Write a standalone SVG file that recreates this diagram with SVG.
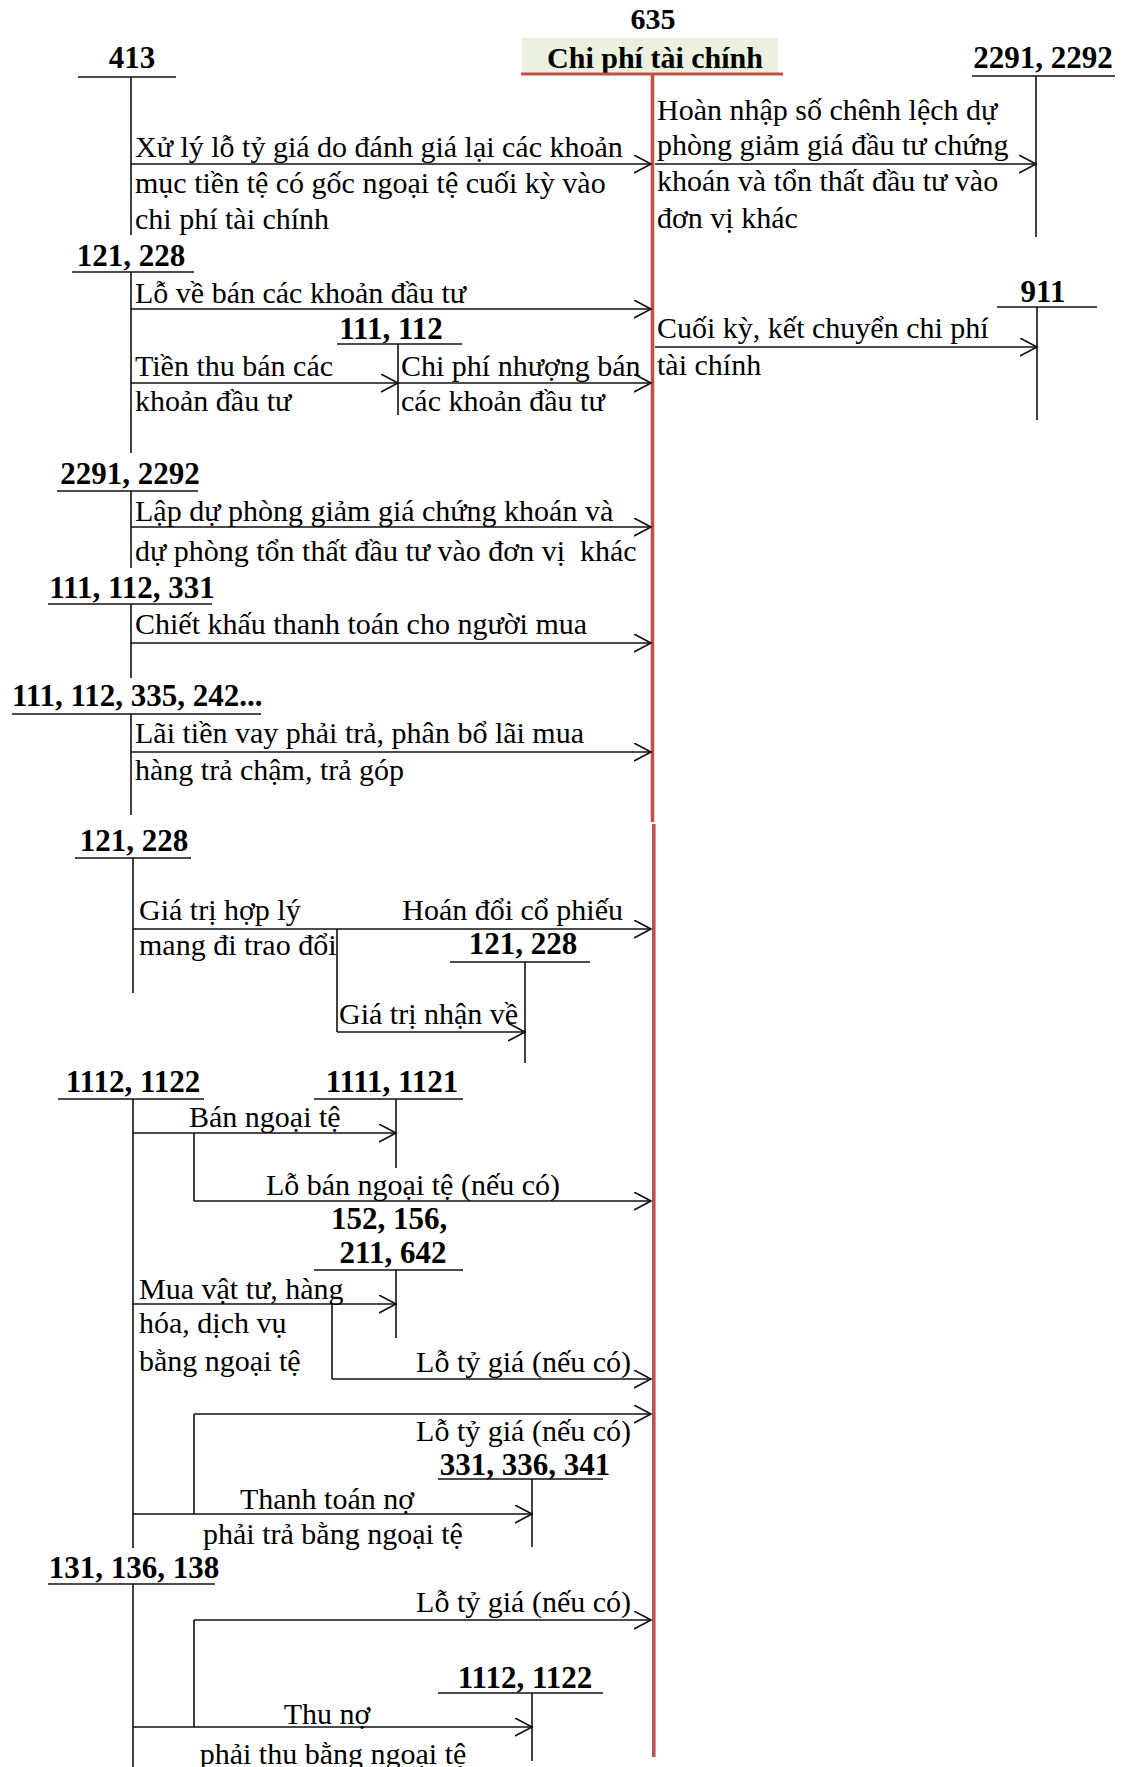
<svg xmlns="http://www.w3.org/2000/svg" width="1122" height="1767" viewBox="0 0 1122 1767">
<style>
text{font-family:"Liberation Serif","Times New Roman",serif;fill:#000;}
.t{font-size:30px;}
.b{font-size:31px;font-weight:bold;text-anchor:middle;}
.m{text-anchor:middle;}
.e{text-anchor:end;}
.ln{stroke:#111;stroke-width:1.6;fill:none;}
.bar{stroke:#111;stroke-width:1.6;fill:none;}
.red{stroke:#c0504d;fill:none;}
.ar{stroke:#111;stroke-width:1.6;fill:none;marker-end:url(#ah);}
</style>
<defs>
<marker id="ah" markerUnits="userSpaceOnUse" markerWidth="20" markerHeight="20" refX="17" refY="9" orient="auto" viewBox="0 0 20 20">
<path d="M0,0 L17,9 L0,18" fill="none" stroke="#111" stroke-width="1.6"/>
</marker>
</defs>
<rect width="1122" height="1767" fill="#fff"/>

<g id="acc-635">
<rect x="522" y="38" width="256" height="35" fill="#ebf1de"/>
<text class="b" x="653" y="29" style="font-size:30px">635</text>
<text class="b" x="655" y="68" style="font-size:30px">Chi phí tài chính</text>
<line class="red" x1="521" y1="74" x2="783" y2="74" stroke-width="3"/>
<line class="red" x1="652.5" y1="74" x2="652.5" y2="822" stroke-width="3.6"/>
<line class="red" x1="653.8" y1="824" x2="653.8" y2="1757" stroke-width="3.6"/>
</g>

<g id="acc-413">
<text class="b" x="132" y="68">413</text>
<line class="bar" x1="78" y1="77" x2="176" y2="77"/>
<line class="ln" x1="131" y1="77" x2="131" y2="235"/>
</g>

<g id="acc-2291-2292-right">
<text class="b" x="1043" y="68">2291, 2292</text>
<line class="bar" x1="972" y1="76" x2="1115" y2="76"/>
<line class="ln" x1="1036" y1="76" x2="1036" y2="237"/>
</g>

<g id="acc-121-228-a">
<text class="b" x="131" y="266">121, 228</text>
<line class="bar" x1="72" y1="272" x2="194" y2="272"/>
<line class="ln" x1="131" y1="272" x2="131" y2="453"/>
</g>

<g id="acc-111-112">
<text class="b" x="391" y="339">111, 112</text>
<line class="bar" x1="337" y1="344" x2="462" y2="344"/>
<line class="ln" x1="398" y1="344" x2="398" y2="415"/>
</g>

<g id="acc-911">
<text class="b" x="1043" y="302">911</text>
<line class="bar" x1="997" y1="307" x2="1097" y2="307"/>
<line class="ln" x1="1037" y1="307" x2="1037" y2="420"/>
</g>

<g id="acc-2291-2292-left">
<text class="b" x="130" y="484">2291, 2292</text>
<line class="bar" x1="57" y1="491" x2="198" y2="491"/>
<line class="ln" x1="131" y1="491" x2="131" y2="568"/>
</g>

<g id="acc-111-112-331">
<text class="b" x="132" y="598">111, 112, 331</text>
<line class="bar" x1="48" y1="604" x2="212" y2="604"/>
<line class="ln" x1="131" y1="604" x2="131" y2="678"/>
</g>

<g id="acc-111-112-335-242">
<text class="b" x="12" y="706" style="text-anchor:start">111, 112, 335, 242...</text>
<line class="bar" x1="12" y1="714" x2="261" y2="714"/>
<line class="ln" x1="131" y1="714" x2="131" y2="815"/>
</g>

<g id="acc-121-228-b">
<text class="b" x="134" y="851">121, 228</text>
<line class="bar" x1="75" y1="858" x2="191" y2="858"/>
<line class="ln" x1="133" y1="858" x2="133" y2="993"/>
</g>

<g id="acc-121-228-c">
<text class="b" x="523" y="954">121, 228</text>
<line class="bar" x1="450" y1="962" x2="590" y2="962"/>
<line class="ln" x1="525" y1="962" x2="525" y2="1063"/>
</g>

<g id="acc-1112-1122">
<text class="b" x="133" y="1092">1112, 1122</text>
<line class="bar" x1="58" y1="1099" x2="204" y2="1099"/>
<line class="ln" x1="133" y1="1099" x2="133" y2="1548"/>
</g>

<g id="acc-1111-1121">
<text class="b" x="392" y="1092">1111, 1121</text>
<line class="bar" x1="314" y1="1099" x2="463" y2="1099"/>
<line class="ln" x1="396" y1="1099" x2="396" y2="1168"/>
</g>

<g id="acc-152-156-211-642">
<text class="b" x="389" y="1229">152, 156,</text>
<text class="b" x="393" y="1263">211, 642</text>
<line class="bar" x1="314" y1="1270" x2="463" y2="1270"/>
<line class="ln" x1="396" y1="1270" x2="396" y2="1338"/>
</g>

<g id="acc-331-336-341">
<text class="b" x="525" y="1475">331, 336, 341</text>
<line class="bar" x1="438" y1="1479" x2="603" y2="1479"/>
<line class="ln" x1="532" y1="1479" x2="532" y2="1547"/>
</g>

<g id="acc-131-136-138">
<text class="b" x="134" y="1578">131, 136, 138</text>
<line class="bar" x1="48" y1="1584" x2="215" y2="1584"/>
<line class="ln" x1="133" y1="1584" x2="133" y2="1767"/>
</g>

<g id="acc-1112-1122-b">
<text class="b" x="525" y="1688">1112, 1122</text>
<line class="bar" x1="438" y1="1693" x2="603" y2="1693"/>
<line class="ln" x1="532" y1="1693" x2="532" y2="1761"/>
</g>

<g id="connectors">
<line class="ar" x1="131" y1="164" x2="651" y2="164"/>
<line class="ar" x1="655" y1="164" x2="1036" y2="164"/>
<line class="ar" x1="131" y1="309" x2="651" y2="309"/>
<line class="ar" x1="131" y1="383" x2="398" y2="383"/>
<line class="ar" x1="398" y1="383" x2="651" y2="383"/>
<line class="ar" x1="655" y1="347" x2="1037" y2="347"/>
<line class="ar" x1="131" y1="527" x2="651" y2="527"/>
<line class="ar" x1="131" y1="643" x2="651" y2="643"/>
<line class="ar" x1="131" y1="752" x2="651" y2="752"/>
<line class="ar" x1="133" y1="929" x2="651" y2="929"/>
<line class="ln" x1="337" y1="929" x2="337" y2="1032"/>
<line class="ar" x1="337" y1="1032" x2="525" y2="1032"/>
<line class="ar" x1="133" y1="1133" x2="396" y2="1133"/>
<line class="ln" x1="194" y1="1133" x2="194" y2="1201"/>
<line class="ar" x1="194" y1="1201" x2="651" y2="1201"/>
<line class="ar" x1="133" y1="1304" x2="396" y2="1304"/>
<line class="ln" x1="332" y1="1304" x2="332" y2="1379"/>
<line class="ar" x1="332" y1="1379" x2="651" y2="1379"/>
<line class="ar" x1="194" y1="1414" x2="651" y2="1414"/>
<line class="ln" x1="194" y1="1414" x2="194" y2="1514"/>
<line class="ar" x1="133" y1="1514" x2="532" y2="1514"/>
<line class="ar" x1="194" y1="1620" x2="651" y2="1620"/>
<line class="ln" x1="194" y1="1620" x2="194" y2="1727"/>
<line class="ar" x1="133" y1="1727" x2="532" y2="1727"/>
</g>

<g id="labels" class="t">
<text class="t" x="135" y="157">Xử lý lỗ tỷ giá do đánh giá lại các khoản</text>
<text class="t" x="135" y="193">mục tiền tệ có gốc ngoại tệ cuối kỳ vào</text>
<text class="t" x="135" y="229">chi phí tài chính</text>

<text class="t" x="657" y="120">Hoàn nhập số chênh lệch dự</text>
<text class="t" x="657" y="155">phòng giảm giá đầu tư chứng</text>
<text class="t" x="657" y="191">khoán và tổn thất đầu tư vào</text>
<text class="t" x="657" y="228">đơn vị khác</text>

<text class="t" x="135" y="303">Lỗ về bán các khoản đầu tư</text>
<text class="t" x="135" y="376">Tiền thu bán các</text>
<text class="t" x="135" y="411">khoản đầu tư</text>
<text class="t" x="401" y="376">Chi phí nhượng bán</text>
<text class="t" x="401" y="411">các khoản đầu tư</text>

<text class="t" x="657" y="338">Cuối kỳ, kết chuyển chi phí</text>
<text class="t" x="657" y="375">tài chính</text>

<text class="t" x="135" y="521">Lập dự phòng giảm giá chứng khoán và</text>
<text class="t" x="135" y="561" xml:space="preserve">dự phòng tổn thất đầu tư vào đơn vị  khác</text>

<text class="t" x="135" y="634">Chiết khấu thanh toán cho người mua</text>

<text class="t" x="135" y="743">Lãi tiền vay phải trả, phân bổ lãi mua</text>
<text class="t" x="135" y="780">hàng trả chậm, trả góp</text>

<text class="t" x="139" y="920">Giá trị hợp lý</text>
<text class="t" x="139" y="955">mang đi trao đổi</text>
<text class="t e" x="623" y="920">Hoán đổi cổ phiếu</text>
<text class="t" x="339" y="1024">Giá trị nhận về</text>

<text class="t" x="189" y="1127">Bán ngoại tệ</text>
<text class="t m" x="413" y="1195">Lỗ bán ngoại tệ (nếu có)</text>
<text class="t" x="139" y="1299">Mua vật tư, hàng</text>
<text class="t" x="139" y="1333">hóa, dịch vụ</text>
<text class="t" x="139" y="1371">bằng ngoại tệ</text>
<text class="t e" x="631" y="1372">Lỗ tỷ giá (nếu có)</text>

<text class="t e" x="631" y="1441">Lỗ tỷ giá (nếu có)</text>
<text class="t m" x="327" y="1509">Thanh toán nợ</text>
<text class="t m" x="333" y="1544">phải trả bằng ngoại tệ</text>

<text class="t e" x="631" y="1612">Lỗ tỷ giá (nếu có)</text>
<text class="t m" x="327" y="1724">Thu nợ</text>
<text class="t m" x="333" y="1764">phải thu bằng ngoại tệ</text>
</g>
</svg>
